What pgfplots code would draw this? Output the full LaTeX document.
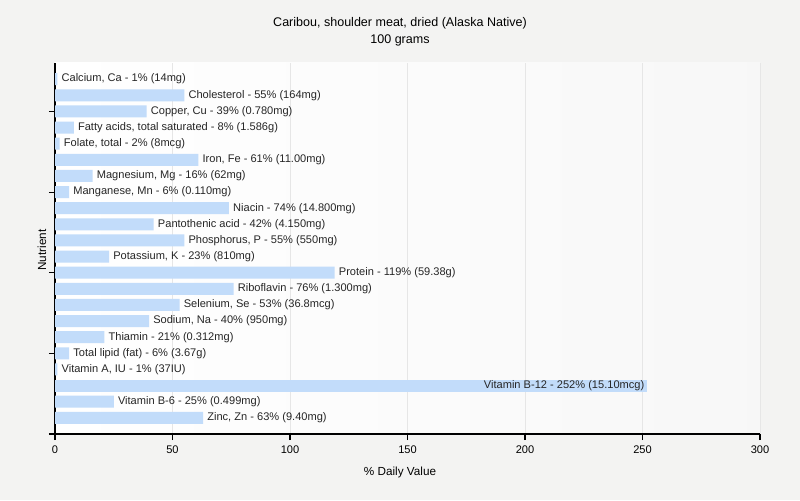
\documentclass[border=0pt]{standalone}
\usepackage{fontspec}
\setmainfont{Liberation Sans}
\usepackage{pgfplots}
\pgfplotsset{compat=1.18}
\definecolor{bg}{HTML}{F3F3F2}
\definecolor{barc}{HTML}{C2DCFA}
\definecolor{gridc}{HTML}{E6E6E6}
\begin{document}
\begin{tikzpicture}[x=1pt,y=1pt]
\fill[bg] (-41.25,-49.5) rectangle (558.75,325.5);
\begin{axis}[
  at={(0,0)}, anchor=south west,
  scale only axis, width=528.75pt, height=278.25pt,
  xmin=0, xmax=300, ymin=0, ymax=23,
  axis lines*=left,
  axis line style={black, line width=0.8pt},
  axis background/.style={left color=white, right color=gray!6},
  xtick={0,50,...,300},
  ytick={0,5,10,15,20}, yticklabels={},
  tick align=outside, major tick length=4.5pt,
  tick style={black, line width=0.8pt},
  xmajorgrids, grid style={gridc, line width=0.6pt},
  /pgf/number format/assume math mode=true,
  ticklabel style={font=\fontsize{8.3}{10}\selectfont},
  xticklabel style={yshift=-1pt},
  clip=false,
]
\addplot[xbar, bar width=9pt, fill=barc, draw=none,
  point meta=explicit symbolic,
  nodes near coords,
  nodes near coords style={anchor=west, font=\fontsize{8.3}{9}\selectfont, inner sep=0pt, xshift=3pt, text=black!85},
] coordinates {
(1,22) [Calcium, Ca - 1\% (14mg)]
(55,21) [Cholesterol - 55\% (164mg)]
(39,20) [Copper, Cu - 39\% (0.780mg)]
(8,19) [Fatty acids, total saturated - 8\% (1.586g)]
(2,18) [Folate, total - 2\% (8mcg)]
(61,17) [Iron, Fe - 61\% (11.00mg)]
(16,16) [Magnesium, Mg - 16\% (62mg)]
(6,15) [Manganese, Mn - 6\% (0.110mg)]
(74,14) [Niacin - 74\% (14.800mg)]
(42,13) [Pantothenic acid - 42\% (4.150mg)]
(55,12) [Phosphorus, P - 55\% (550mg)]
(23,11) [Potassium, K - 23\% (810mg)]
(119,10) [Protein - 119\% (59.38g)]
(76,9) [Riboflavin - 76\% (1.300mg)]
(53,8) [Selenium, Se - 53\% (36.8mcg)]
(40,7) [Sodium, Na - 40\% (950mg)]
(21,6) [Thiamin - 21\% (0.312mg)]
(6,5) [Total lipid (fat) - 6\% (3.67g)]
(1,4) [Vitamin A, IU - 1\% (37IU)]
(25,2) [Vitamin B-6 - 25\% (0.499mg)]
(63,1) [Zinc, Zn - 63\% (9.40mg)]
};
\addplot[xbar, bar width=9pt, fill=barc, draw=none,
  point meta=explicit symbolic,
  nodes near coords,
  nodes near coords style={anchor=east, font=\fontsize{8.3}{9}\selectfont, inner sep=0pt, xshift=-2pt, text=black!85},
] coordinates {
(252,3) [Vitamin B-12 - 252\% (15.10mcg)]
};
\end{axis}
\node[font=\fontsize{9.4}{10}\selectfont] at (258.75,308.25) {Caribou, shoulder meat, dried (Alaska Native)};
\node[font=\fontsize{9.4}{10}\selectfont] at (258.75,295.5) {100 grams};
\node[font=\fontsize{8.8}{10}\selectfont] at (258.75,-28.5) {\% Daily Value};
\node[font=\fontsize{8.8}{10}\selectfont, rotate=90] at (-9.75,138) {Nutrient};
\end{tikzpicture}
\end{document}
